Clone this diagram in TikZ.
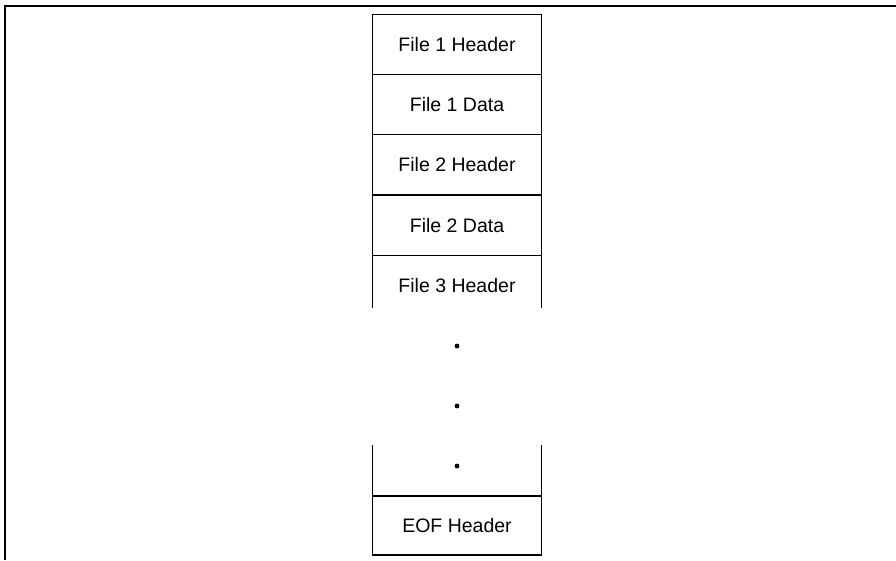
\documentclass[tikz,border=0pt]{standalone}
\usepackage{fontspec}
\setmainfont{Liberation Sans}
\usetikzlibrary{positioning}

\tikzset{
  stack/.style={x=1pt,y=-1pt,line width=1.2pt},
  cell/.style={draw,minimum width=169pt,minimum height=60.2pt,inner sep=0pt,
    outer sep=0pt,font=\fontsize{19.5}{23}\selectfont},
  bare/.style={cell,draw=none},
  gapdot/.style={circle,fill=black,inner sep=0pt,minimum size=4.8pt}
}

\begin{document}
\begin{tikzpicture}[stack]
  \useasboundingbox (0,0) rectangle (896,560);
  % frame
  \draw[line width=1.8pt] (5,560) -- (5,6) -- (896,6);
  % closed cells
  \node[cell] (h1) at (457,44.5) {File 1 Header};
  \node[cell,below=0pt of h1] (d1) {File 1 Data};
  \node[cell,below=0pt of d1] (h2) {File 2 Header};
  \node[cell,below=0pt of h2] (d2) {File 2 Data};
  % open cell
  \node[bare,below=0pt of d2] (h3) {File 3 Header};
  \draw (d2.south west) -- ++(0,53);
  \draw (d2.south east) -- ++(0,53);
  % gap
  \foreach \y/\name in {346/g1,406/g2,466/g3}
    \node[gapdot] (\name) at (457,\y) {};
  % last cell
  \node[cell,minimum height=59pt] (eof) at (457,525.5) {EOF Header};
  \draw (eof.north west) -- ++(0,-51);
  \draw (eof.north east) -- ++(0,-51);
\end{tikzpicture}
\end{document}
